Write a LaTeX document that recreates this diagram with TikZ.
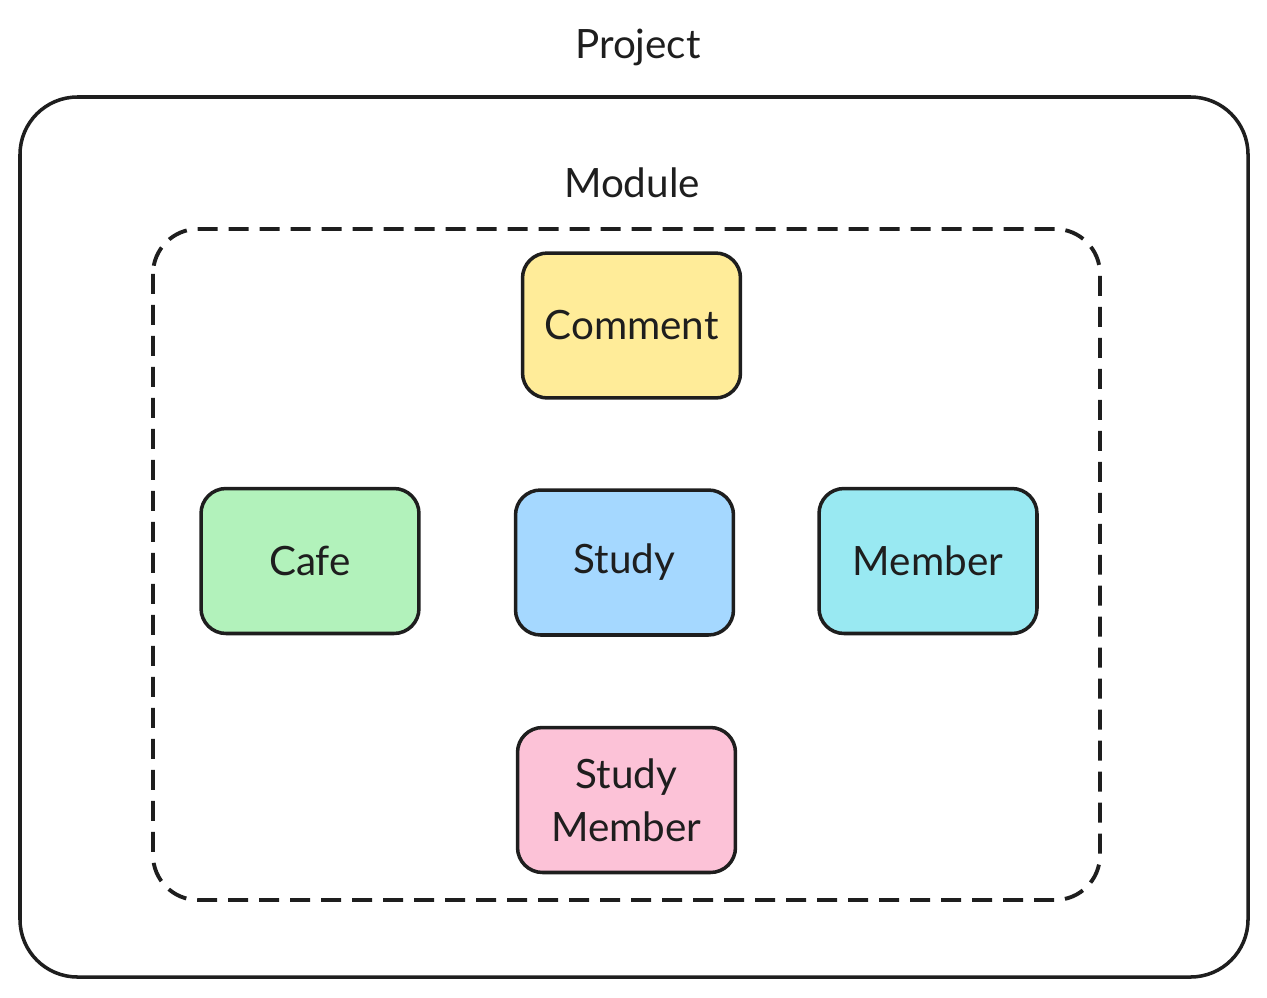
\documentclass[tikz,border=0pt]{standalone}
\usepackage{fontspec}
\setmainfont{Lato}
\usepackage{tikz}
\usetikzlibrary{positioning, calc}

\definecolor{commentfill}{HTML}{FFEC99}
\definecolor{cafefill}{HTML}{B2F2BB}
\definecolor{studyfill}{HTML}{A5D8FF}
\definecolor{memberfill}{HTML}{99E9F2}
\definecolor{smemberfill}{HTML}{FCC2D7}
\definecolor{inkline}{HTML}{1E1E1E}

\begin{document}
\begin{tikzpicture}[x=0.02cm, y=-0.02cm,
    box/.style={draw=inkline, line width=2pt, rounded corners=0.5cm,
      minimum width=4.36cm, minimum height=2.9cm, align=center,
      font=\fontsize{23}{30}\selectfont, text=inkline},
    title/.style={font=\fontsize{23}{30}\selectfont, text=inkline}]
    \useasboundingbox (0,0) rectangle (1267,997);

    % outer frame: project
    \draw[inkline, line width=2pt, rounded corners=1.15cm] (20,97) rectangle (1248,977);
    \node[title] (project) at (638,47) {Project};

    % dashed frame: module
    \draw[inkline, line width=2.2pt, dash pattern=on 0.4cm off 0.22cm,
      rounded corners=0.9cm] (153,229) rectangle (1100,900);
    \node[title] (module) at (632,183) {Module};

    % the five boxes
    \node[box, fill=commentfill] (comment) at (631.5,325.5) {Comment};
    \node[box, fill=cafefill] (cafe) at (310,561) {Cafe};
    \node[box, fill=studyfill] (study) at (624.5,562.5) {Study};
    \node[box, fill=memberfill] (member) at (928,561) {Member};
    \node[box, fill=smemberfill] (studymember) at (626.5,800) {Study\\Member};
  \end{tikzpicture}
\end{document}
